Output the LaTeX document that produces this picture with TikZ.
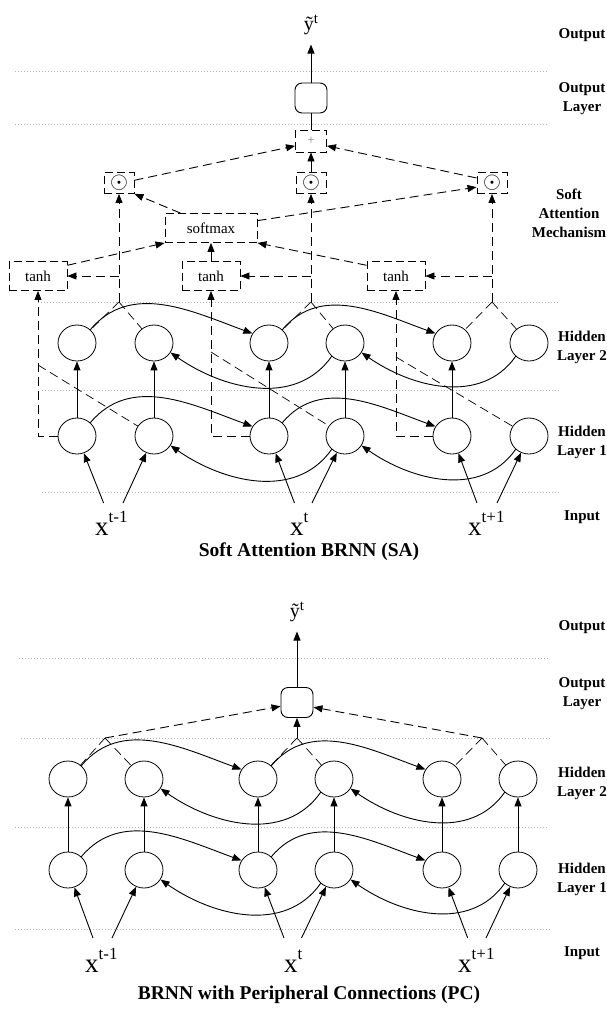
\documentclass[tikz,border=0pt]{standalone}
\usepackage{fontspec}
\setmainfont{Liberation Serif}
\usetikzlibrary{calc,shapes,arrows.meta}
\newcommand{\xsup}[1]{\raisebox{13pt}{\fontsize{17}{17}\selectfont #1}}
\newcommand{\ysup}[1]{\raisebox{7pt}{\fontsize{15}{15}\selectfont #1}}

\begin{document}
\begin{tikzpicture}[x=1pt,y=1pt,
    hid/.style={ellipse,draw,line width=0.8pt,minimum width=38pt,minimum height=36pt,inner sep=0pt},
    dbox/.style={draw,line width=0.9pt,dash pattern=on 8pt off 4pt,inner sep=0pt},
    tanhbox/.style={dbox,minimum width=58pt,minimum height=29pt,font=\fontsize{15}{15}\selectfont},
    smbox/.style={dbox,minimum width=92pt,minimum height=29pt,font=\fontsize{15}{15}\selectfont},
    dotbox/.style={dbox,minimum width=30pt,minimum height=21pt,font=\fontsize{15}{15}\selectfont},
    plusbox/.style={dbox,minimum width=31pt,minimum height=22pt,font=\fontsize{13}{13}\selectfont,text=gray},
    outbox/.style={draw,line width=0.9pt,rounded corners=7pt,minimum width=32pt,minimum height=30pt},
    lbl/.style={font=\fontsize{15}{19}\selectfont\bfseries,align=center},
    ttl/.style={font=\fontsize{19.5}{22}\selectfont\bfseries},
    xlab/.style={font=\fontsize{27}{27}\selectfont,inner sep=0pt,anchor=base west},
    ylab/.style={font=\fontsize{20}{20}\selectfont,inner sep=0pt,anchor=base},
    sep/.style={gray!60,line width=0.8pt,dash pattern=on 0.8pt off 2.2pt},
    con/.style={line width=0.9pt,-{Triangle[length=9pt,width=7pt]}},
    dcon/.style={con,dash pattern=on 9pt off 5pt},
    dln/.style={line width=0.7pt,dash pattern=on 9pt off 5pt}]

    \fill[white] (0,0) rectangle (606,-1012);
    \useasboundingbox (0,0) rectangle (606,-1012);

    \draw[sep] (15,-71) -- (547,-71);
    \draw[sep] (15,-124) -- (547,-124);
    \draw[sep] (38,-302) -- (560,-302);
    \draw[sep] (42,-390) -- (560,-390);
    \draw[sep] (42,-492) -- (560,-492);

    \node[lbl] (sOut) at (582,-35) {Output};
    \node[lbl] (sOutL) at (582,-98.5) {Output\\Layer};
    \node[lbl] (sSoft) at (569,-213) {Soft\\Attention\\Mechanism};
    \node[lbl] (sHid2) at (582,-347) {Hidden\\Layer 2};
    \node[lbl] (sHid1) at (582,-442) {Hidden\\Layer 1};
    \node[lbl] (sIn) at (582,-517) {Input};
    \node[ttl] (sTitle) at (309,-552) {Soft Attention BRNN (SA)};

    \node[hid] (sA1) at (77,-436) {};
    \node[hid] (sA2) at (154,-436) {};
    \node[hid] (sA3) at (269,-436) {};
    \node[hid] (sA4) at (345,-436) {};
    \node[hid] (sA5) at (452,-436) {};
    \node[hid] (sA6) at (529,-436) {};
    \node[hid] (sB1) at (77,-343) {};
    \node[hid] (sB2) at (154,-343) {};
    \node[hid] (sB3) at (269,-343) {};
    \node[hid] (sB4) at (345,-343) {};
    \node[hid] (sB5) at (452,-343) {};
    \node[hid] (sB6) at (529,-343) {};

    \node[xlab] (sX1) at (95,-535) {x\xsup{t-1}};
    \node[xlab] (sX2) at (290,-535) {x\xsup{t}};
    \node[xlab] (sX3) at (468,-535) {x\xsup{t+1}};
    \coordinate (sI1) at (103.6,-503);
    \coordinate (sI2) at (123,-503);
    \coordinate (sI3) at (294.5,-503);
    \coordinate (sI4) at (312,-503);
    \coordinate (sI5) at (477,-503);
    \coordinate (sI6) at (497,-503);

    \node[tanhbox] (sT1) at (38,-276) {tanh};
    \node[tanhbox] (sT2) at (211,-276) {tanh};
    \node[tanhbox] (sT3) at (396,-276) {tanh};
    \node[smbox] (sSm) at (211,-228) {softmax};
    \node[dotbox] (sD1) at (119,-183) {\scalebox{1.6}{$\odot$}};
    \node[dotbox] (sD2) at (311,-183) {\scalebox{1.6}{$\odot$}};
    \node[dotbox] (sD3) at (492,-183) {\scalebox{1.6}{$\odot$}};
    \node[plusbox] (sPl) at (311,-141) {+};
    \node[outbox] (sOb) at (311,-98) {};
    \node[ylab] (sY) at (311,-30) {\~{y}\ysup{t}};

    \coordinate (sJ1) at (119,-302);
    \coordinate (sJ2) at (311,-302);
    \coordinate (sJ3) at (492,-302);
    \coordinate (sK1) at (119,-276);
    \coordinate (sK2) at (311,-276);
    \coordinate (sK3) at (492,-276);
    \coordinate (sL1) at (38,-365);
    \coordinate (sL2) at (211,-352);
    \coordinate (sL3) at (396,-357);

    \draw[con,shorten >=10pt] (sOb) -- (sY);
    \draw[line width=0.9pt] (sPl) -- (sOb);
    \draw[con] (sD2) -- (sPl);
    \draw[dcon] (sD1.10) -- (sPl.197);
    \draw[dcon] (sD3.162) -- (sPl.-17);
    \draw[dcon] (sSm.154) -- (sD1.south east);
    \draw[dcon] (sSm.9) -- (sD3.195);
    \draw[dcon] (sT1.20) -- (sSm.south west);
    \draw[con] (sT2) -- (sSm);
    \draw[dcon] (sT3.160) -- (sSm.south east);

    \draw[dcon] (sJ1) -- (sD1);
    \draw[dcon] (sJ2) -- (sD2);
    \draw[dcon] (sJ3) -- (sD3);
    \draw[dcon] (sK1) -- (sT1.east);
    \draw[dcon] (sK2) -- (sT2.east);
    \draw[dcon] (sK3) -- (sT3.east);
    \draw[dln] (sJ1) -- (sB1);
    \draw[dln] (sJ1) -- (sB2);
    \draw[dln] (sJ2) -- (sB3);
    \draw[dln] (sJ2) -- (sB4);
    \draw[dln] (sJ3) -- (sB5);
    \draw[dln] (sJ3) -- (sB6);
    \draw[dcon] (sA1.west) -| (sT1.south);
    \draw[dcon] (sA3.west) -| (sT2.south);
    \draw[dcon] (sA5.west) -| (sT3.south);
    \draw[dln] (sL1) -- (sA2);
    \draw[dln] (sL2) -- (sA4);
    \draw[dln] (sL3) -- (sA6);

    \draw[con] (sA1) -- (sB1);
    \draw[con] (sA2) -- (sB2);
    \draw[con] (sA3) -- (sB3);
    \draw[con] (sA4) -- (sB4);
    \draw[con] (sA5) -- (sB5);
    \draw[con] (sB1.45) to[out=50,in=160] (sB3.150);
    \draw[con] (sB3.45) to[out=50,in=160] (sB5.150);
    \draw[con] (sB6.225) to[out=235,in=-35] (sB4.-30);
    \draw[con] (sB4.225) to[out=235,in=-35] (sB2.-30);
    \draw[con] (sA1.45) to[out=50,in=160] (sA3.150);
    \draw[con] (sA3.45) to[out=50,in=160] (sA5.150);
    \draw[con] (sA6.225) to[out=235,in=-35] (sA4.-30);
    \draw[con] (sA4.225) to[out=235,in=-35] (sA2.-30);
    \draw[con] (sI1) -- (sA1);
    \draw[con] (sI2) -- (sA2);
    \draw[con] (sI3) -- (sA3);
    \draw[con] (sI4) -- (sA4);
    \draw[con] (sI5) -- (sA5);
    \draw[con] (sI6) -- (sA6);

    \draw[sep] (19,-658) -- (549,-658);
    \draw[sep] (21,-738) -- (551,-738);
    \draw[sep] (15,-827) -- (549,-827);
    \draw[sep] (15,-929) -- (551,-929);

    \node[lbl] (pOut) at (582,-627) {Output};
    \node[lbl] (pOutL) at (582,-693.5) {Output\\Layer};
    \node[lbl] (pHid2) at (582,-783.5) {Hidden\\Layer 2};
    \node[lbl] (pHid1) at (582,-879.5) {Hidden\\Layer 1};
    \node[lbl] (pIn) at (582,-953) {Input};
    \node[ttl] (pTitle) at (309,-995) {BRNN with Peripheral Connections (PC)};

    \node[hid] (pA1) at (68,-870) {};
    \node[hid] (pA2) at (144,-870) {};
    \node[hid] (pA3) at (258,-870) {};
    \node[hid] (pA4) at (334,-870) {};
    \node[hid] (pA5) at (442,-870) {};
    \node[hid] (pA6) at (518,-870) {};
    \node[hid] (pB1) at (68,-779) {};
    \node[hid] (pB2) at (144,-779) {};
    \node[hid] (pB3) at (258,-779) {};
    \node[hid] (pB4) at (334,-779) {};
    \node[hid] (pB5) at (442,-779) {};
    \node[hid] (pB6) at (518,-779) {};

    \node[xlab] (pX1) at (85,-972) {x\xsup{t-1}};
    \node[xlab] (pX2) at (284,-972) {x\xsup{t}};
    \node[xlab] (pX3) at (458,-972) {x\xsup{t+1}};
    \coordinate (pI1) at (93,-938);
    \coordinate (pI2) at (112,-938);
    \coordinate (pI3) at (284,-938);
    \coordinate (pI4) at (301.5,-938);
    \coordinate (pI5) at (467.7,-938);
    \coordinate (pI6) at (486,-938);

    \node[outbox] (pOb) at (297,-702.5) {};
    \node[ylab] (pY) at (297,-617) {\~{y}\ysup{t}};
    \coordinate (pJ1) at (105,-738);
    \coordinate (pJ2) at (297,-738);
    \coordinate (pJ3) at (482,-738);

    \draw[con,shorten >=10pt] (pOb) -- (pY);
    \draw[con] (pJ2) -- (pOb);
    \draw[dcon] (pJ1) -- (pOb.193);
    \draw[dcon] (pJ3) -- (pOb.-16);
    \draw[dln] (pJ1) -- (pB1);
    \draw[dln] (pJ1) -- (pB2);
    \draw[dln] (pJ2) -- (pB3);
    \draw[dln] (pJ2) -- (pB4);
    \draw[dln] (pJ3) -- (pB5);
    \draw[dln] (pJ3) -- (pB6);

    \draw[con] (pA1) -- (pB1);
    \draw[con] (pA2) -- (pB2);
    \draw[con] (pA3) -- (pB3);
    \draw[con] (pA4) -- (pB4);
    \draw[con] (pA5) -- (pB5);
    \draw[con] (pA6) -- (pB6);
    \draw[con] (pB1.45) to[out=50,in=160] (pB3.150);
    \draw[con] (pB3.45) to[out=50,in=160] (pB5.150);
    \draw[con] (pB6.225) to[out=235,in=-35] (pB4.-30);
    \draw[con] (pB4.225) to[out=235,in=-35] (pB2.-30);
    \draw[con] (pA1.45) to[out=50,in=160] (pA3.150);
    \draw[con] (pA3.45) to[out=50,in=160] (pA5.150);
    \draw[con] (pA6.225) to[out=235,in=-35] (pA4.-30);
    \draw[con] (pA4.225) to[out=235,in=-35] (pA2.-30);
    \draw[con] (pI1) -- (pA1);
    \draw[con] (pI2) -- (pA2);
    \draw[con] (pI3) -- (pA3);
    \draw[con] (pI4) -- (pA4);
    \draw[con] (pI5) -- (pA5);
    \draw[con] (pI6) -- (pA6);
\end{tikzpicture}
\end{document}
